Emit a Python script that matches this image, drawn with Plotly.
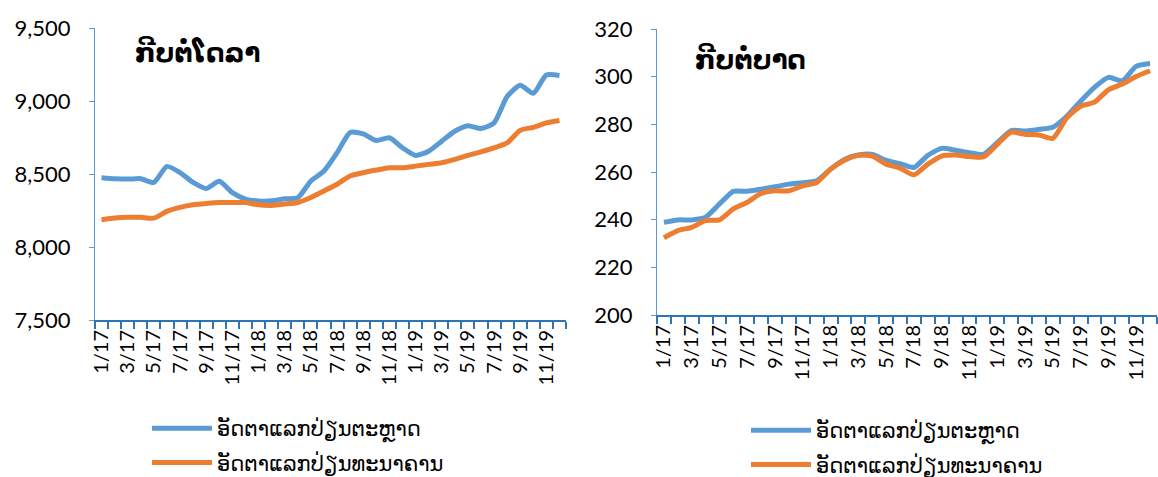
import plotly.graph_objects as go

months = [f"{m}/{y}" for y in (17, 18, 19) for m in range(1, 13)]
tick_labels = months[::2]

usd_market = [8475, 8468, 8465, 8468, 8442, 8552, 8510, 8442, 8400, 8450, 8372, 8328,
              8315, 8316, 8330, 8338, 8452, 8520, 8645, 8785, 8775, 8729, 8748, 8680,
              8627, 8656, 8725, 8793, 8831, 8811, 8850, 9031, 9108, 9053, 9178, 9175]
usd_bank = [8187, 8198, 8203, 8203, 8198, 8244, 8271, 8289, 8298, 8305, 8305, 8305,
            8289, 8285, 8294, 8305, 8339, 8384, 8430, 8486, 8509, 8527, 8543, 8543,
            8554, 8566, 8577, 8600, 8627, 8652, 8679, 8713, 8799, 8820, 8850, 8867]
thb_market = [238.9, 239.9, 239.9, 241.0, 246.6, 251.9, 251.9, 252.8, 253.8, 254.9, 255.5, 256.3,
              261.2, 265.3, 267.1, 267.4, 264.9, 263.5, 261.9, 267.0, 269.9, 269.1, 268.1, 267.4,
              272.3, 277.4, 277.2, 277.9, 278.8, 283.4, 289.7, 295.5, 299.7, 298.3, 304.3, 305.5]
thb_bank = [232.4, 235.4, 236.8, 239.6, 239.9, 244.5, 247.3, 251.0, 252.1, 252.1, 254.2, 255.6,
            261.2, 264.9, 267.0, 266.7, 263.3, 261.6, 258.8, 263.3, 266.7, 267.1, 266.5, 266.3,
            271.6, 276.7, 275.8, 275.5, 274.1, 282.7, 287.6, 289.3, 294.5, 296.9, 300.1, 302.5]

name_market = "ອັດຕາແລກປ່ຽນຕະຫຼາດ"
name_bank = "ອັດຕາແລກປ່ຽນທະນາຄານ"
title_usd = "ກີບຕໍ່ໂດລາ"
title_thb = "ກີບຕໍ່ບາດ"

BLUE = "#5B9BD5"
ORANGE = "#ED7D31"
AXIS_X = "#2E75B6"
AXIS_Y = "#5B9BD5"
FONT = "Lato, DejaVu Sans, sans-serif"

x = list(range(len(months)))
W, H = 1158, 477

fig = go.Figure()
for xa, ya, leg, ser in [("x", "y", "legend", (usd_market, usd_bank)),
                         ("x2", "y2", "legend2", (thb_market, thb_bank))]:
    fig.add_trace(go.Scatter(x=x, y=ser[0], mode="lines", name=name_market,
                             legendgroup=leg + "a",
                             line=dict(color=BLUE, width=5, shape="spline", smoothing=0.6),
                             xaxis=xa, yaxis=ya, legend=leg))
    fig.add_trace(go.Scatter(x=x, y=ser[1], mode="lines", name=name_bank,
                             legendgroup=leg + "b",
                             line=dict(color=ORANGE, width=5, shape="spline", smoothing=0.6),
                             xaxis=xa, yaxis=ya, legend=leg))

def xaxis_cfg(domain, anchor):
    return dict(domain=domain, anchor=anchor, range=[-0.5, len(months) - 0.5],
                automargin=False,
                tickmode="array", tickvals=x[::2], ticktext=tick_labels,
                tickangle=-90, ticks="", showgrid=False, zeroline=False,
                showline=True, linecolor=AXIS_X, linewidth=2,
                tickfont=dict(family=FONT, size=20, color="#000"),
                minor=dict(ticks="outside", tick0=-0.5, dtick=1, ticklen=7,
                           tickwidth=2, tickcolor=AXIS_X, showgrid=False))

def yaxis_cfg(domain, anchor, rng, dtick, fmt):
    return dict(domain=domain, anchor=anchor, range=rng, dtick=dtick, tickformat=fmt,
                automargin=False,
                showgrid=False, zeroline=False, showline=True, linecolor=AXIS_Y,
                linewidth=1, ticks="outside", ticklen=5, tickcolor=AXIS_Y,
                ticklabelstandoff=14,
                tickfont=dict(family=FONT, size=22, color="#000"))

legend_common = dict(xanchor="left", yanchor="top", bgcolor="rgba(0,0,0,0)",
                     itemwidth=60, tracegroupgap=4,
                     font=dict(family=FONT, size=21))

fig.update_layout(
    width=W, height=H, margin=dict(l=0, r=0, t=0, b=0, autoexpand=False),
    paper_bgcolor="white", plot_bgcolor="white",
    font=dict(family=FONT, color="#000"),
    xaxis=xaxis_cfg([95 / W, 566 / W], "y"),
    yaxis=yaxis_cfg([1 - 320 / H, 1 - 28 / H], "x", [7500, 9500], 500, ",d"),
    xaxis2=xaxis_cfg([657 / W, 1157 / W], "y2"),
    yaxis2=yaxis_cfg([1 - 315 / H, 1 - 29 / H], "x2", [200, 320], 20, "d"),
    legend=dict(x=147 / W, y=1 - 408 / H, **legend_common),
    legend2=dict(x=746 / W, y=1 - 410 / H, **legend_common),
    annotations=[
        dict(text=f"<b>{title_usd}</b>", x=133 / W, y=1 - 52 / H, xref="paper", yref="paper",
             xanchor="left", yanchor="middle", showarrow=False,
             font=dict(family=FONT, size=26, color="#000")),
        dict(text=f"<b>{title_thb}</b>", x=693 / W, y=1 - 59 / H, xref="paper", yref="paper",
             xanchor="left", yanchor="middle", showarrow=False,
             font=dict(family=FONT, size=26, color="#000")),
    ],
)

fig.write_html("out.html", config={"displayModeBar": False},
               post_script="document.body.style.margin='0';")
